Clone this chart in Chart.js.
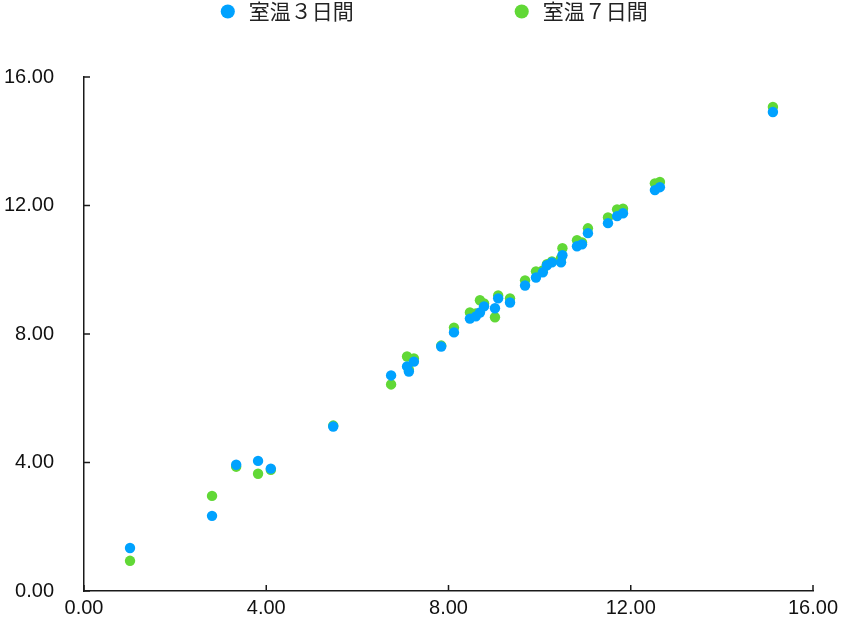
<!DOCTYPE html>
<html>
<head>
<meta charset="utf-8">
<script src="https://cdn.jsdelivr.net/npm/chart.js@4.4.0/dist/chart.umd.min.js"></script>
<style>
  html, body { margin: 0; padding: 0; background: #fff; }
  #wrap { width: 841px; height: 629px; }
</style>
</head>
<body>
<div id="wrap"><canvas id="chart"></canvas></div>
<script>
// values
var xValues = [1.01, 2.81, 3.34, 3.82, 4.10, 5.47, 6.74, 7.09, 7.13, 7.24, 7.84, 8.12, 8.47, 8.60, 8.69, 8.78, 9.02, 9.09, 9.35, 9.68, 9.92, 10.07, 10.16, 10.27, 10.47, 10.50, 10.82, 10.93, 11.06, 11.50, 11.70, 11.83, 12.53, 12.64, 15.12];
var room3Days = [1.34, 2.34, 3.93, 4.05, 3.81, 5.12, 6.71, 6.99, 6.83, 7.14, 7.61, 8.05, 8.48, 8.55, 8.67, 8.86, 8.80, 9.11, 8.98, 9.51, 9.76, 9.92, 10.14, 10.23, 10.23, 10.45, 10.73, 10.79, 11.14, 11.45, 11.67, 11.76, 12.48, 12.57, 14.91];
var room7Days = [0.94, 2.96, 3.87, 3.65, 3.77, 5.15, 6.43, 7.30, 6.89, 7.24, 7.64, 8.20, 8.67, 8.64, 9.05, 8.95, 8.52, 9.20, 9.11, 9.67, 9.95, 9.98, 10.17, 10.26, 10.36, 10.67, 10.92, 10.85, 11.29, 11.63, 11.88, 11.90, 12.69, 12.73, 15.07];
var seriesLabels = ['室温３日間', '室温７日間'];
var axisTicks = [0, 4, 8, 12, 16];

function toPoints(ys) {
    return xValues.map(function(x, i) { return { x: x, y: ys[i] }; });
}

var tickFont = { family: '"Liberation Sans", Arial, sans-serif', size: 20 };

// legend needs more room below it than its padding gives,
// and sits a little right of the canvas centre
var legendSpace = {
    id: 'legendSpace',
    beforeInit: function(chart) {
        var fit = chart.legend.fit;
        chart.legend.fit = function() {
            fit.call(this);
            this.height = 77;
        };
    },
    afterLayout: function(chart) {
        chart.legend.left += 12;
        chart.legend.right += 12;
    }
};

// short ticks pointing into the plot
var innerTicks = {
    id: 'innerTicks',
    afterDraw: function(chart) {
        var ctx = chart.ctx;
        var xs = chart.scales.x, ys = chart.scales.y;
        var area = chart.chartArea;
        ctx.save();
        ctx.strokeStyle = '#1a1a1a';
        ctx.lineWidth = 1.5;
        ctx.beginPath();
        axisTicks.forEach(function(v) {
            var px = xs.getPixelForValue(v);
            ctx.moveTo(px, area.bottom);
            ctx.lineTo(px, area.bottom - 6);
            var py = ys.getPixelForValue(v);
            ctx.moveTo(area.left, py);
            ctx.lineTo(area.left + 6, py);
        });
        ctx.stroke();
        ctx.restore();
    }
};

new Chart(document.getElementById('chart'), {
    type: 'scatter',
    data: {
        datasets: [{
            label: seriesLabels[0],
            data: toPoints(room3Days),
            backgroundColor: '#00a2ff',
            borderWidth: 0,
            pointRadius: 5.2,
            pointHoverRadius: 5.2
        }, {
            label: seriesLabels[1],
            data: toPoints(room7Days),
            backgroundColor: '#61d836',
            borderWidth: 0,
            pointRadius: 5.2,
            pointHoverRadius: 5.2
        }]
    },
    options: {
        responsive: true,
        maintainAspectRatio: false,
        animation: false,
        layout: { padding: { left: 0, right: 0, top: 0, bottom: 4 } },
        plugins: {
            tooltip: { enabled: false },
            legend: {
                position: 'top',
                labels: {
                    usePointStyle: true,
                    pointStyle: 'circle',
                    boxWidth: 28,
                    boxHeight: 10,
                    padding: 1,
                    color: '#222',
                    font: { family: '"Noto Sans CJK JP", sans-serif', size: 21 },
                    generateLabels: function(chart) {
                        var items = Chart.defaults.plugins.legend.labels.generateLabels(chart);
                        items[0].text += '\u3000\u3000\u3000\u3000\u3000\u3000\u3000  ';
                        return items;
                    }
                }
            }
        },
        scales: {
            x: {
                type: 'linear',
                min: 0,
                max: 16,
                grid: { display: false, drawTicks: false },
                border: { color: '#1a1a1a', width: 1.5 },
                afterBuildTicks: function(scale) {
                    scale.ticks = axisTicks.map(function(v) { return { value: v }; });
                },
                afterFit: function(scale) { scale.paddingRight = 28; },
                ticks: {
                    padding: 5,
                    color: '#111',
                    font: tickFont,
                    maxRotation: 0,
                    callback: function(v) { return v.toFixed(2); }
                }
            },
            y: {
                type: 'linear',
                min: 0,
                max: 16,
                grid: { display: false, drawTicks: false },
                border: { color: '#1a1a1a', width: 1.5 },
                afterBuildTicks: function(scale) {
                    scale.ticks = axisTicks.map(function(v) { return { value: v }; });
                },
                afterFit: function(scale) {
                    scale.width = 84;
                    scale.paddingTop = 12;
                    scale.paddingBottom = 12;
                },
                ticks: {
                    padding: 30,
                    color: '#111',
                    font: tickFont,
                    callback: function(v) { return v.toFixed(2); }
                }
            }
        }
    },
    plugins: [legendSpace, innerTicks]
});
</script>
</body>
</html>
